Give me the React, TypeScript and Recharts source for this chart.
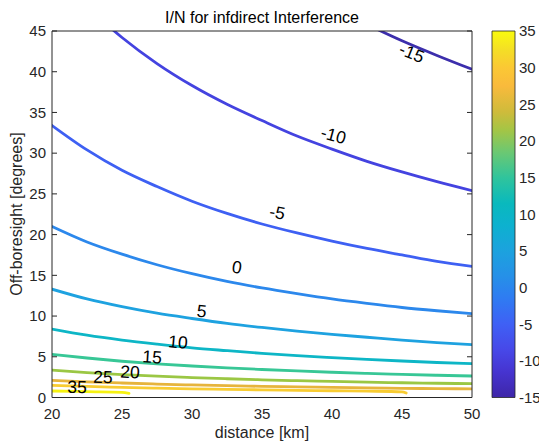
import React from 'react';
import { LineChart, Line, XAxis, YAxis, ReferenceDot, BarChart, Bar } from 'recharts';

const FONT = '"Liberation Sans", Arial, Helvetica, sans-serif';
const INK = '#262626';

const distanceTicks = [20, 25, 30, 35, 40, 45, 50];
const angleTicks = [0, 5, 10, 15, 20, 25, 30, 35, 40, 45];
const levelTicks = [-15, -10, -5, 0, 5, 10, 15, 20, 25, 30, 35];

// contour lines: [distance km, off-boresight deg]
const contourM15: [number, number][] = [[42.5, 45.8], [45, 43.8], [47.5, 42.0], [50, 40.3]];
const contourM10: [number, number][] = [[22.5, 48.0], [25, 44.2], [27.5, 41.0], [30, 38.3], [32.5, 36.0], [35, 34.0], [37.5, 32.1], [40, 30.5], [42.5, 29.0], [45, 27.7], [47.5, 26.5], [50, 25.4]];
const contour0M5: [number, number][] = [[20, 33.4], [22.5, 30.4], [25, 27.9], [27.5, 25.9], [30, 24.1], [32.5, 22.6], [35, 21.3], [37.5, 20.2], [40, 19.2], [42.5, 18.3], [45, 17.5], [47.5, 16.7], [50, 16.1]];
const contour00: [number, number][] = [[20, 21.0], [22.5, 19.1], [25, 17.6], [27.5, 16.3], [30, 15.2], [32.5, 14.25], [35, 13.45], [37.5, 12.75], [40, 12.1], [42.5, 11.55], [45, 11.05], [47.5, 10.65], [50, 10.3]];
const contour05: [number, number][] = [[20, 13.3], [22.5, 12.1], [25, 11.15], [27.5, 10.35], [30, 9.7], [32.5, 9.1], [35, 8.6], [37.5, 8.15], [40, 7.75], [42.5, 7.4], [45, 7.05], [47.5, 6.75], [50, 6.5]];
const contour10: [number, number][] = [[20, 8.4], [22.5, 7.65], [25, 7.05], [27.5, 6.55], [30, 6.1], [32.5, 5.75], [35, 5.42], [37.5, 5.14], [40, 4.9], [42.5, 4.68], [45, 4.48], [47.5, 4.3], [50, 4.15]];
const contour15: [number, number][] = [[20, 5.3], [22.5, 4.85], [25, 4.45], [27.5, 4.13], [30, 3.87], [32.5, 3.64], [35, 3.44], [37.5, 3.26], [40, 3.1], [42.5, 2.96], [45, 2.84], [47.5, 2.73], [50, 2.64]];
const contour20: [number, number][] = [[20, 3.35], [22.5, 3.06], [25, 2.82], [27.5, 2.62], [30, 2.45], [32.5, 2.3], [35, 2.17], [37.5, 2.06], [40, 1.97], [42.5, 1.88], [45, 1.81], [47.5, 1.75], [50, 1.7]];
const contour25: [number, number][] = [[20, 2.1], [22.5, 1.93], [25, 1.78], [27.5, 1.65], [30, 1.54], [32.5, 1.45], [35, 1.37], [37.5, 1.3], [40, 1.24], [42.5, 1.18], [45, 1.13], [47.5, 1.09], [50, 1.06]];
const contour30: [number, number][] = [[20, 1.5], [22.5, 1.36], [25, 1.25], [27.5, 1.15], [30, 1.07], [32.5, 1.0], [35, 0.94], [37.5, 0.88], [40, 0.83], [42.5, 0.78], [45, 0.7], [45.3, 0.55]];
const contour35: [number, number][] = [[20, 0.8], [22.5, 0.71], [25, 0.63], [25.5, 0.5]];

const contourLevels = [-15, -10, -5, 0, 5, 10, 15, 20, 25, 30, 35];
const contourColors = ['#3c2eac', '#4443e0', '#3e60f3', '#2c88ec', '#1ea2e0', '#0db6c6', '#38c796', '#9bc744', '#e6b43c', '#f8cc32', '#f6f211'];
const contourPoints = [contourM15, contourM10, contour0M5, contour00, contour05, contour10, contour15, contour20, contour25, contour30, contour35];

// inline contour labels
const labelText = ['-15', '-10', '-5', '0', '5', '10', '15', '20', '25', '35'];
const labelX = [45.7, 40.1, 36.1, 33.2, 30.7, 29.0, 27.15, 25.57, 23.64, 21.79];
const labelY = [42.3, 32.2, 22.7, 16.0, 10.6, 6.8, 4.98, 3.13, 2.52, 1.29];
const labelAngle = [22, 15, 11, 8, 6, 5, 4, 3, 2, 1];

// colorbar (parula)
const parulaOffsets = [0, 0.07, 0.13, 0.2, 0.27, 0.33, 0.4, 0.47, 0.53, 0.6, 0.67, 0.73, 0.78, 0.85, 0.9, 0.95, 1];
const parulaColors = ['#3e26a8', '#4634d0', '#4748e8', '#3f60f5', '#2f7bf2', '#2690e8', '#1ca2de', '#0db1cf', '#09b9bd', '#30c49c', '#6cc872', '#a4c545', '#cfbb3b', '#f9ba3c', '#fbc834', '#f4df25', '#f9fb0e'];
const colorbarData = [{ name: 'I/N', range: [-15, 35] }];

const series = contourLevels.map((lvl, i) => ({
  level: lvl,
  color: contourColors[i],
  data: contourPoints[i].map(([x, y]) => ({ x, y })),
}));

const makeLabel = (text: string, angle: number) => (props: any) => {
  const { cx, cy } = props;
  return (
    <text
      x={cx}
      y={cy}
      textAnchor="middle"
      dominantBaseline="central"
      transform={`rotate(${angle} ${cx} ${cy})`}
      fontSize={17.5}
      fontFamily={FONT}
      fill="#000"
    >
      {text}
    </text>
  );
};

const tickStyle = { fill: INK, fontSize: 15, fontFamily: FONT };
const blank = () => '';

export default function App() {
  return (
    <div style={{ position: 'absolute', left: 0, top: 0, width: 539, height: 443, background: '#fff' }}>
      <div style={{ position: 'absolute', left: 0, top: 0 }}>
        <LineChart width={539} height={443} margin={{ top: 31, right: 67, bottom: 15.5, left: 6 }}>
          <XAxis
            dataKey="x"
            type="number"
            domain={[20, 50]}
            ticks={distanceTicks}
            interval={0}
            allowDataOverflow
            tickLine={false}
            tickSize={0}
            tickMargin={10.5}
            height={30}
            axisLine={{ stroke: INK }}
            tick={tickStyle}
          />
          <XAxis
            xAxisId="xb"
            orientation="bottom"
            mirror
            type="number"
            domain={[20, 50]}
            ticks={distanceTicks}
            interval={0}
            allowDataOverflow
            tickSize={5}
            tickLine={{ stroke: INK }}
            axisLine={false}
            tickFormatter={blank}
          />
          <XAxis
            xAxisId="xt"
            orientation="top"
            mirror
            type="number"
            domain={[20, 50]}
            ticks={distanceTicks}
            interval={0}
            allowDataOverflow
            tickSize={5}
            tickLine={{ stroke: INK }}
            axisLine={{ stroke: INK }}
            tickFormatter={blank}
          />
          <YAxis
            type="number"
            domain={[0, 45]}
            ticks={angleTicks}
            interval={0}
            allowDataOverflow
            width={46}
            tickLine={false}
            tickSize={0}
            tickMargin={6}
            axisLine={{ stroke: INK }}
            tick={tickStyle}
          />
          <YAxis
            yAxisId="yl"
            orientation="left"
            mirror
            type="number"
            domain={[0, 45]}
            ticks={angleTicks}
            interval={0}
            allowDataOverflow
            tickSize={5}
            tickLine={{ stroke: INK }}
            axisLine={false}
            tickFormatter={blank}
          />
          <YAxis
            yAxisId="yr"
            orientation="right"
            mirror
            type="number"
            domain={[0, 45]}
            ticks={angleTicks}
            interval={0}
            allowDataOverflow
            tickSize={5}
            tickLine={{ stroke: INK }}
            axisLine={{ stroke: INK }}
            tickFormatter={blank}
          />
          {series.map((s) => (
            <Line
              key={s.level}
              data={s.data}
              dataKey="y"
              type="monotone"
              stroke={s.color}
              strokeWidth={2.8}
              strokeLinecap="round"
              dot={false}
              activeDot={false}
              isAnimationActive={false}
            />
          ))}
          {labelText.map((t, i) => (
            <ReferenceDot key={t} x={labelX[i]} y={labelY[i]} r={0} shape={makeLabel(t, labelAngle[i])} />
          ))}
          <text x={262} y={23} textAnchor="middle" fontSize={16} fontFamily={FONT} fill="#000">
            I/N for infdirect Interference
          </text>
          <text x={262} y={438} textAnchor="middle" fontSize={16} fontFamily={FONT} fill={INK}>
            distance [km]
          </text>
          <text
            x={22}
            y={214}
            textAnchor="middle"
            fontSize={16}
            fontFamily={FONT}
            fill={INK}
            transform="rotate(-90 22 214)"
          >
            Off-boresight [degrees]
          </text>
        </LineChart>
      </div>
      <div style={{ position: 'absolute', left: 0, top: 0 }}>
        <BarChart
          width={539}
          height={443}
          data={colorbarData}
          margin={{ top: 31, right: 0, bottom: 45.5, left: 492 }}
          barCategoryGap={0}
          barGap={0}
        >
          <defs>
            <linearGradient id="parula" x1="0" y1="1" x2="0" y2="0">
              {parulaOffsets.map((o, i) => (
                <stop key={o} offset={o} stopColor={parulaColors[i]} />
              ))}
            </linearGradient>
          </defs>
          <XAxis dataKey="name" hide />
          <YAxis
            yAxisId="cb"
            orientation="right"
            type="number"
            width={24}
            domain={[-15, 35]}
            ticks={levelTicks}
            interval={0}
            tickLine={false}
            tickSize={0}
            tickMargin={4}
            axisLine={false}
            tick={{ ...tickStyle, textAnchor: 'start' }}
          />
          <YAxis
            yAxisId="cbt"
            orientation="right"
            mirror
            type="number"
            domain={[-15, 35]}
            ticks={levelTicks}
            interval={0}
            tickSize={3}
            tickLine={{ stroke: INK }}
            axisLine={false}
            tickFormatter={blank}
          />
          <Bar yAxisId="cb" dataKey="range" fill="url(#parula)" stroke={INK} strokeWidth={0.8} isAnimationActive={false} />
        </BarChart>
      </div>
    </div>
  );
}
